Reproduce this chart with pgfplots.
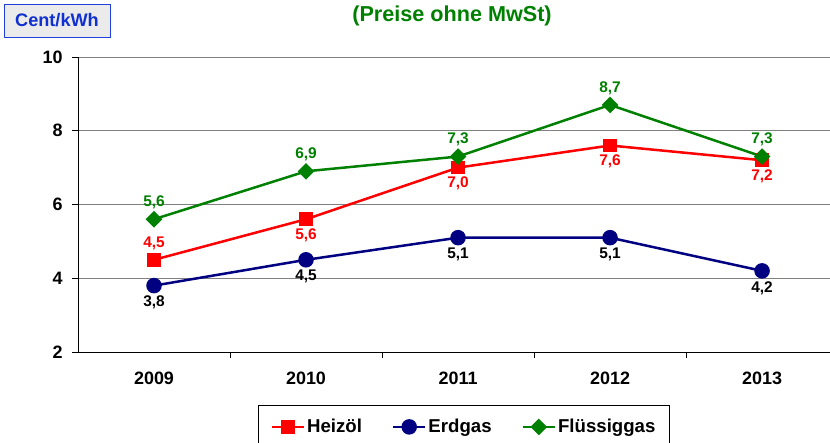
\documentclass[border=0pt]{standalone}
\usepackage{pgfplots}
\usepackage{pgfplotstable}
\pgfplotsset{compat=1.18}
\usepackage{fontspec}
\setmainfont{Liberation Sans}
\definecolor{hred}{HTML}{FF0000}
\definecolor{enavy}{HTML}{000080}
\definecolor{fgreen}{HTML}{008000}
\definecolor{boxblue}{HTML}{1F3FE0}
\definecolor{titleblue}{HTML}{1030D0}
\definecolor{boxfill}{HTML}{EBEBEB}
\definecolor{gridgray}{HTML}{808080}
\pgfplotstableread{
x y s
0 4.5 16
1 5.6 -16
2 7.0 -16
3 7.6 -16
4 7.2 -16
}\heizoel
\pgfplotstableread{
x y s
0 3.8 -17
1 4.5 -17
2 5.1 -17
3 5.1 -17
4 4.2 -17
}\erdgas
\pgfplotstableread{
x y s
0 5.6 17
1 6.9 17
2 7.3 17
3 8.7 17
4 7.3 17
}\fluessig
\begin{document}
\begin{tikzpicture}[x=1bp,y=1bp]
\useasboundingbox (0,0) rectangle (830,443);
\node[draw=boxblue, line width=0.8bp, fill=boxfill, minimum width=106bp, minimum height=33bp,
  inner sep=0pt, font=\fontsize{18.2}{20}\selectfont\bfseries, text=titleblue] at (57,422.5) {Cent/kWh};
\node[font=\fontsize{21.7}{24}\selectfont\bfseries, text=fgreen] at (452,427) {(Preise ohne MwSt)};
\begin{axis}[
  at={(78bp,91bp)}, anchor=south west,
  scale only axis, width=752bp, height=295bp,
  xmin=-0.5, xmax=4.447, ymin=2, ymax=10,
  axis x line*=bottom, axis y line*=left,
  axis line style={black, line width=0.8pt, -},
  xtick={0,1,2,3,4},
  xticklabels={2009,2010,2011,2012,2013},
  major x tick style={draw=none},
  minor xtick={0.5,1.5,2.5,3.5},
  minor x tick style={black, line width=0.8pt},
  minor tick length=6bp,
  ytick={2,4,6,8,10},
  yticklabels={2,4,6,8,10},
  major tick length=6bp,
  y tick style={black, line width=0.8pt},
  tick align=outside,
  ymajorgrids, grid style={gridgray, line width=0.8pt},
  /pgf/number format/assume math mode=true,
  ticklabel style={font=\fontsize{18}{20}\selectfont\bfseries},
  xticklabel style={yshift=-10bp},
  yticklabel style={xshift=-6bp},
  clip=false,
  legend columns=3,
  legend style={at={(386bp,-53bp)}, anchor=north, draw=black, line width=0.8pt,
    font=\fontsize{18.7}{21}\selectfont\bfseries, inner xsep=12bp, inner ysep=12bp,
    /tikz/every even column/.append style={column sep=28bp}},
  legend cell align=left,
  legend image code/.code={\draw[mark repeat=2,mark phase=2] plot coordinates {(0bp,0bp) (16bp,0bp) (32bp,0bp)};},
  nodes near coords={\pgfmathprintnumber[use comma,fixed,fixed zerofill,precision=1]{\pgfplotspointmeta}},
  point meta=y,
  visualization depends on={\thisrow{s} \as \lshift},
]
\addplot[hred, line width=2.5bp, mark=square*, mark size=5.5bp, mark options={solid},
  nodes near coords style={font=\fontsize{15.5}{17}\selectfont\bfseries, text=hred, anchor=center,
    yshift=\lshift bp}]
  table[x=x,y=y] {\heizoel};
\addlegendentry{Heizöl}
\addplot[enavy, line width=2.5bp, mark=*, mark size=6.5bp, mark options={solid},
  nodes near coords style={font=\fontsize{15.5}{17}\selectfont\bfseries, text=black, anchor=center,
    yshift=\lshift bp}]
  table[x=x,y=y] {\erdgas};
\addlegendentry{Erdgas}
\addplot[fgreen, line width=2.5bp, mark=square*, mark size=4.6bp, mark options={solid, rotate=45},
  nodes near coords style={font=\fontsize{15.5}{17}\selectfont\bfseries, text=fgreen, anchor=center,
    yshift=\lshift bp}]
  table[x=x,y=y] {\fluessig};
\addlegendentry{Flüssiggas}
\end{axis}
\end{tikzpicture}
\end{document}
